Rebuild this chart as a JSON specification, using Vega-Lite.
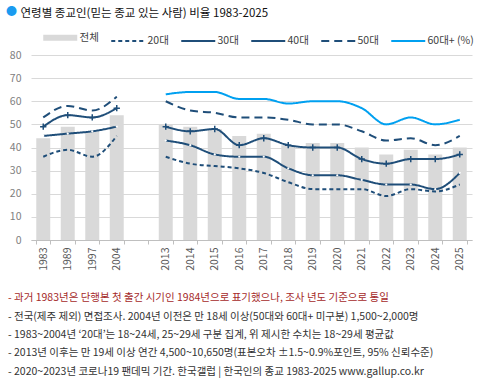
{
  "$schema": "https://vega.github.io/schema/vega-lite/v6.json",
  "width": 441,
  "height": 185,
  "autosize": {"type": "none"},
  "padding": {"left": 31, "top": 55, "right": 7, "bottom": 141},
  "background": "white",
  "config": {
    "font": "Noto Sans CJK KR",
    "view": {"stroke": null}
  },
  "title": {
    "text": "- 과거 1983년은 단행본 첫 출간 시기인 1984년으로 표기했으나, 조사 년도 기준으로 통일",
    "subtitle": [
      "- 전국(제주 제외) 면접조사. 2004년 이전은 만 18세 이상(50대와 60대+ 미구분) 1,500~2,000명",
      "- 1983~2004년 ‘20대’는 18~24세, 25~29세 구분 집계, 위 제시한 수치는 18~29세 평균값",
      "- 2013년 이후는 만 19세 이상 연간 4,500~10,650명(표본오차 ±1.5~0.9%포인트, 95% 신뢰수준)",
      "- 2020~2023년 코로나19 팬데믹 기간. 한국갤럽 | 한국인의 종교 1983-2025 www.gallup.co.kr"
    ],
    "orient": "bottom",
    "anchor": "start",
    "frame": "group",
    "dx": -23,
    "offset": 23,
    "fontSize": 10.5,
    "fontWeight": "normal",
    "color": "#a52a2a",
    "lineHeight": 18,
    "subtitleFontSize": 10.5,
    "subtitleColor": "#333333",
    "subtitleLineHeight": 18.3,
    "subtitlePadding": 8
  },
  "data": {
    "values": [
      {"year": "1983", "era": "a", "series": "전체", "value": 44},
      {"year": "1989", "era": "a", "series": "전체", "value": 49},
      {"year": "1997", "era": "a", "series": "전체", "value": 47},
      {"year": "2004", "era": "a", "series": "전체", "value": 54},
      {"year": "2013", "era": "b", "series": "전체", "value": 50},
      {"year": "2014", "era": "b", "series": "전체", "value": 49},
      {"year": "2015", "era": "b", "series": "전체", "value": 48},
      {"year": "2016", "era": "b", "series": "전체", "value": 45},
      {"year": "2017", "era": "b", "series": "전체", "value": 46},
      {"year": "2018", "era": "b", "series": "전체", "value": 41},
      {"year": "2019", "era": "b", "series": "전체", "value": 42},
      {"year": "2020", "era": "b", "series": "전체", "value": 42},
      {"year": "2021", "era": "b", "series": "전체", "value": 40},
      {"year": "2022", "era": "b", "series": "전체", "value": 37},
      {"year": "2023", "era": "b", "series": "전체", "value": 39},
      {"year": "2024", "era": "b", "series": "전체", "value": 37},
      {"year": "2025", "era": "b", "series": "전체", "value": 40},

      {"year": "1983", "era": "a", "series": "20대", "value": 36},
      {"year": "1989", "era": "a", "series": "20대", "value": 39},
      {"year": "1997", "era": "a", "series": "20대", "value": 36},
      {"year": "2004", "era": "a", "series": "20대", "value": 45},
      {"year": "2013", "era": "b", "series": "20대", "value": 36},
      {"year": "2014", "era": "b", "series": "20대", "value": 33},
      {"year": "2015", "era": "b", "series": "20대", "value": 32},
      {"year": "2016", "era": "b", "series": "20대", "value": 31},
      {"year": "2017", "era": "b", "series": "20대", "value": 29},
      {"year": "2018", "era": "b", "series": "20대", "value": 25},
      {"year": "2019", "era": "b", "series": "20대", "value": 22},
      {"year": "2020", "era": "b", "series": "20대", "value": 22},
      {"year": "2021", "era": "b", "series": "20대", "value": 22},
      {"year": "2022", "era": "b", "series": "20대", "value": 19},
      {"year": "2023", "era": "b", "series": "20대", "value": 22},
      {"year": "2024", "era": "b", "series": "20대", "value": 21},
      {"year": "2025", "era": "b", "series": "20대", "value": 24},

      {"year": "1983", "era": "a", "series": "30대", "value": 45},
      {"year": "1989", "era": "a", "series": "30대", "value": 46},
      {"year": "1997", "era": "a", "series": "30대", "value": 47},
      {"year": "2004", "era": "a", "series": "30대", "value": 49},
      {"year": "2013", "era": "b", "series": "30대", "value": 43},
      {"year": "2014", "era": "b", "series": "30대", "value": 41},
      {"year": "2015", "era": "b", "series": "30대", "value": 37},
      {"year": "2016", "era": "b", "series": "30대", "value": 36},
      {"year": "2017", "era": "b", "series": "30대", "value": 36},
      {"year": "2018", "era": "b", "series": "30대", "value": 31},
      {"year": "2019", "era": "b", "series": "30대", "value": 28},
      {"year": "2020", "era": "b", "series": "30대", "value": 28},
      {"year": "2021", "era": "b", "series": "30대", "value": 26},
      {"year": "2022", "era": "b", "series": "30대", "value": 24},
      {"year": "2023", "era": "b", "series": "30대", "value": 24},
      {"year": "2024", "era": "b", "series": "30대", "value": 22},
      {"year": "2025", "era": "b", "series": "30대", "value": 29},

      {"year": "1983", "era": "a", "series": "40대", "value": 49},
      {"year": "1989", "era": "a", "series": "40대", "value": 54},
      {"year": "1997", "era": "a", "series": "40대", "value": 53},
      {"year": "2004", "era": "a", "series": "40대", "value": 57},
      {"year": "2013", "era": "b", "series": "40대", "value": 49},
      {"year": "2014", "era": "b", "series": "40대", "value": 47},
      {"year": "2015", "era": "b", "series": "40대", "value": 48},
      {"year": "2016", "era": "b", "series": "40대", "value": 41},
      {"year": "2017", "era": "b", "series": "40대", "value": 44},
      {"year": "2018", "era": "b", "series": "40대", "value": 41},
      {"year": "2019", "era": "b", "series": "40대", "value": 40},
      {"year": "2020", "era": "b", "series": "40대", "value": 40},
      {"year": "2021", "era": "b", "series": "40대", "value": 35},
      {"year": "2022", "era": "b", "series": "40대", "value": 33},
      {"year": "2023", "era": "b", "series": "40대", "value": 35},
      {"year": "2024", "era": "b", "series": "40대", "value": 35},
      {"year": "2025", "era": "b", "series": "40대", "value": 37},

      {"year": "1983", "era": "a", "series": "50대", "value": 53},
      {"year": "1989", "era": "a", "series": "50대", "value": 58},
      {"year": "1997", "era": "a", "series": "50대", "value": 56},
      {"year": "2004", "era": "a", "series": "50대", "value": 62},
      {"year": "2013", "era": "b", "series": "50대", "value": 60},
      {"year": "2014", "era": "b", "series": "50대", "value": 56},
      {"year": "2015", "era": "b", "series": "50대", "value": 55},
      {"year": "2016", "era": "b", "series": "50대", "value": 53},
      {"year": "2017", "era": "b", "series": "50대", "value": 53},
      {"year": "2018", "era": "b", "series": "50대", "value": 52},
      {"year": "2019", "era": "b", "series": "50대", "value": 50},
      {"year": "2020", "era": "b", "series": "50대", "value": 50},
      {"year": "2021", "era": "b", "series": "50대", "value": 47},
      {"year": "2022", "era": "b", "series": "50대", "value": 43},
      {"year": "2023", "era": "b", "series": "50대", "value": 44},
      {"year": "2024", "era": "b", "series": "50대", "value": 41},
      {"year": "2025", "era": "b", "series": "50대", "value": 45},

      {"year": "2013", "era": "b", "series": "60대+ (%)", "value": 63},
      {"year": "2014", "era": "b", "series": "60대+ (%)", "value": 64},
      {"year": "2015", "era": "b", "series": "60대+ (%)", "value": 64},
      {"year": "2016", "era": "b", "series": "60대+ (%)", "value": 61},
      {"year": "2017", "era": "b", "series": "60대+ (%)", "value": 61},
      {"year": "2018", "era": "b", "series": "60대+ (%)", "value": 59},
      {"year": "2019", "era": "b", "series": "60대+ (%)", "value": 60},
      {"year": "2020", "era": "b", "series": "60대+ (%)", "value": 60},
      {"year": "2021", "era": "b", "series": "60대+ (%)", "value": 57},
      {"year": "2022", "era": "b", "series": "60대+ (%)", "value": 50},
      {"year": "2023", "era": "b", "series": "60대+ (%)", "value": 53},
      {"year": "2024", "era": "b", "series": "60대+ (%)", "value": 50},
      {"year": "2025", "era": "b", "series": "60대+ (%)", "value": 52}
    ]
  },
  "encoding": {
    "x": {
      "field": "year",
      "type": "nominal",
      "scale": {
        "type": "band",
        "domain": ["1983", "1989", "1997", "2004", "gap", "2013", "2014", "2015", "2016", "2017", "2018", "2019", "2020", "2021", "2022", "2023", "2024", "2025"],
        "paddingInner": 0.43,
        "paddingOuter": 0.215
      },
      "axis": {
        "title": "●",
        "titleColor": "#1a9bf0",
        "titleFontSize": 11,
        "titleFontWeight": "normal",
        "titleAngle": 0,
        "titleX": -20,
        "titleY": -229,
        "titleAlign": "center",
        "titleBaseline": "middle",
        "labelAngle": -90,
        "labelFontSize": 10.5,
        "labelColor": "#595959",
        "labelPadding": 3,
        "labelExpr": "datum.value == 'gap' ? '' : datum.value",
        "tickBand": "extent",
        "tickColor": "#bfbfbf",
        "tickSize": 4,
        "domainColor": "#bfbfbf",
        "grid": false
      }
    },
    "y": {
      "field": "value",
      "type": "quantitative",
      "scale": {"domain": [0, 80], "nice": false},
      "axis": {
        "title": "연령별 종교인(믿는 종교 있는 사람) 비율 1983-2025",
        "titleAngle": 0,
        "titleX": -11,
        "titleY": -38.5,
        "titleAlign": "left",
        "titleBaseline": "alphabetic",
        "titleFontSize": 11.5,
        "titleFontWeight": "normal",
        "titleColor": "#111111",
        "values": [0, 10, 20, 30, 40, 50, 60, 70, 80],
        "grid": true,
        "gridColor": "#d9d9d9",
        "domain": false,
        "ticks": false,
        "labelColor": "#808080",
        "labelFontSize": 10.5,
        "labelPadding": 10
      }
    }
  },
  "layer": [
    {
      "transform": [{"filter": "datum.series == '전체'"}],
      "mark": {"type": "bar"},
      "encoding": {
        "color": {
          "field": "series",
          "type": "nominal",
          "scale": {
            "domain": ["전체", "20대", "30대", "40대", "50대", "60대+ (%)"],
            "range": ["#d9d9d9", "#1f4e79", "#1f4e79", "#1f4e79", "#1f4e79", "#00a0f0"]
          },
          "legend": {
            "orient": "none",
            "legendX": 24,
            "legendY": -23,
            "direction": "horizontal",
            "columns": 6,
            "title": null,
            "symbolType": "stroke",
            "symbolSize": 1156,
            "symbolStrokeWidth": 2,
            "labelFontSize": 10.5,
            "labelColor": "#404040",
            "labelOffset": 14,
            "columnPadding": 8,
            "encode": {
              "symbols": {
                "update": {
                  "strokeWidth": {"signal": "datum.value === '전체' ? 6 : 2"},
                  "stroke": {"scale": "color", "field": "value"}
                }
              }
            }
          }
        }
      }
    },
    {
      "transform": [{"filter": "datum.series != '전체'"}],
      "mark": {"type": "line", "interpolate": "monotone", "strokeWidth": 2},
      "encoding": {
        "color": {"field": "series", "type": "nominal"},
        "strokeDash": {
          "field": "series",
          "type": "nominal",
          "scale": {
            "domain": ["전체", "20대", "30대", "40대", "50대", "60대+ (%)"],
            "range": [[1, 0], [4, 3], [1, 0], [1, 0], [8, 5], [1, 0]]
          }
        },
        "detail": {"field": "era"}
      }
    },
    {
      "transform": [{"filter": "datum.series == '40대'"}],
      "mark": {"type": "point", "shape": "M-1,0H1M0,-1V1", "filled": false, "size": 40, "strokeWidth": 1.5, "color": "#1f4e79", "opacity": 1}
    },
    {
      "transform": [{"filter": "datum.series == '30대'"}],
      "mark": {"type": "point", "shape": "circle", "filled": true, "size": 5, "color": "white", "opacity": 1}
    },
    {
      "data": {"values": [{"year": "1983", "brk": "//"}, {"year": "1989", "brk": "//"}, {"year": "1997", "brk": "//"}]},
      "mark": {"type": "text", "dx": 12.25, "fontSize": 10, "font": "DejaVu Sans", "color": "#808080", "baseline": "middle", "align": "center"},
      "encoding": {
        "y": {"datum": 0},
        "text": {"field": "brk"}
      }
    }
  ]
}
